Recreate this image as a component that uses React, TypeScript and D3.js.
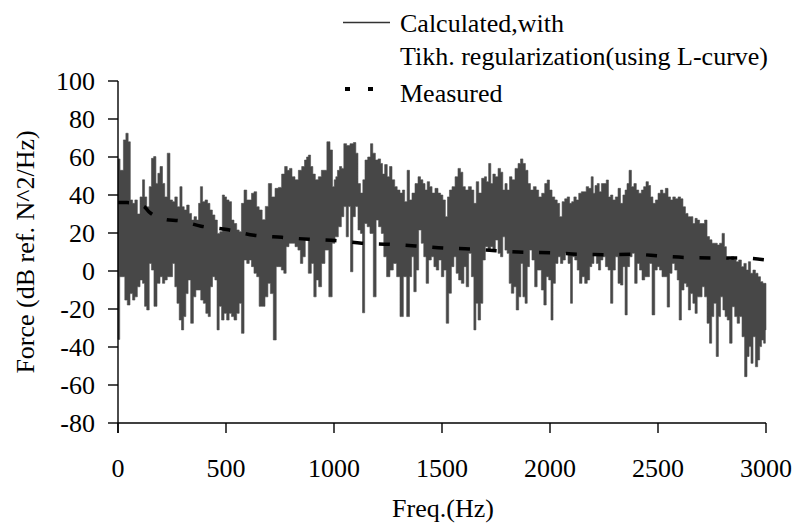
import React from "react";
import * as d3 from "d3";

// ---- data ----
const xTicks = [0, 500, 1000, 1500, 2000, 2500, 3000];
const yTicks = [-80, -60, -40, -20, 0, 20, 40, 60, 80, 100];

// Calculated (Tikhonov, L-curve): upper envelope of the dense spectrum [Hz, dB]
const calcUpper: [number, number][] = [
  [0, 59], [19, 53], [31, 69], [42, 72.5], [52, 68], [62, 37.4], [73, 35.6], [83, 37.4], [96, 30], [108, 39],
  [119, 48], [127, 39], [139, 33.8], [150, 44.4], [160, 59.3], [170, 60.2], [181, 46.1], [188, 51.4], [201, 55], [211, 46.1],
  [222, 39], [234, 62], [247, 37.4], [258, 36.5], [268, 39], [281, 33.8], [292, 44.4], [301, 33.8], [312, 32.1], [324, 34.7],
  [335, 30.3], [346, 26.8], [358, 28.6], [369, 26.8], [377, 35.6], [386, 44.4], [397, 36.5], [409, 37.4], [420, 35.6], [431, 32.1],
  [443, 29.5], [454, 26.8], [466, 19.8], [477, 20.7], [489, 40], [497, 39], [508, 37.4], [520, 36.5], [531, 26.8], [543, 25],
  [556, 21.6], [566, 20.7], [577, 35.6], [590, 42.6], [602, 37.4], [613, 37.4], [623, 40.9], [636, 41.7], [648, 33.8], [659, 32.1],
  [676, 27], [688, 34], [704, 46], [719, 39], [735, 43.5], [750, 44], [765, 51], [778, 55], [789, 53], [799, 54],
  [812, 49.6], [827, 48], [843, 53], [858, 55], [869, 58.4], [877, 60], [886, 61], [897, 55], [907, 51], [920, 48],
  [935, 49.6], [948, 53], [960, 53], [974, 68], [989, 63.7], [997, 44.4], [1005, 48], [1012, 49.6], [1020, 53], [1031, 55],
  [1040, 54], [1051, 67], [1066, 66], [1082, 67], [1097, 67.6], [1105, 62], [1117, 46], [1128, 41], [1139, 48], [1148, 58.4],
  [1164, 60], [1174, 67], [1185, 62], [1198, 58.4], [1210, 59], [1221, 56.6], [1228, 51], [1241, 56], [1252, 49.6], [1262, 55],
  [1275, 48], [1287, 44.4], [1298, 42.6], [1313, 41], [1321, 42.6], [1333, 36.5], [1344, 53], [1355, 37.4], [1367, 41], [1383, 46],
  [1395, 49.6], [1406, 48], [1417, 46], [1426, 42.6], [1437, 47], [1448, 44.4], [1460, 41], [1475, 43.5], [1488, 41], [1499, 40],
  [1509, 37.4], [1522, 28.6], [1529, 39], [1540, 42.6], [1553, 44.4], [1568, 49.6], [1580, 54], [1591, 52], [1602, 44.4], [1614, 42.6],
  [1630, 44.4], [1642, 42.6], [1653, 35.6], [1664, 47], [1676, 41], [1691, 48.8], [1702, 49.6], [1710, 47], [1722, 56.6], [1730, 46],
  [1741, 51], [1753, 49.6], [1766, 54], [1776, 52], [1787, 42.6], [1796, 46], [1807, 42.6], [1818, 49.6], [1830, 48], [1846, 54],
  [1858, 56.6], [1869, 59], [1880, 56.6], [1892, 53], [1904, 46], [1915, 42.6], [1931, 44.4], [1941, 42.6], [1954, 39], [1969, 40.9],
  [1982, 46], [1992, 47.9], [2003, 42.6], [2016, 39], [2028, 37.4], [2039, 35.6], [2050, 28.6], [2062, 36.5], [2074, 38], [2085, 39],
  [2096, 35.6], [2105, 36.5], [2116, 39], [2127, 37.4], [2139, 40.9], [2151, 41.7], [2162, 41.7], [2173, 44.4], [2185, 43.5], [2196, 49.6],
  [2204, 40.9], [2213, 45], [2224, 46], [2232, 41.7], [2244, 46], [2255, 46], [2266, 47.9], [2275, 39], [2286, 40], [2296, 37.4],
  [2309, 39], [2321, 43.5], [2332, 35.6], [2343, 40], [2352, 42.6], [2361, 46], [2371, 53], [2383, 44.4], [2394, 46], [2405, 42.6],
  [2417, 40.9], [2429, 42.6], [2438, 44.4], [2451, 47], [2460, 45], [2471, 39], [2482, 35.6], [2494, 37.4], [2506, 40.9], [2517, 42.6],
  [2528, 40.9], [2540, 43.5], [2553, 39], [2563, 37.4], [2574, 39], [2587, 38], [2599, 39], [2610, 38], [2621, 33.8], [2633, 30.3],
  [2645, 28.6], [2656, 28.6], [2667, 25], [2676, 27.7], [2687, 26.8], [2698, 25], [2710, 25], [2721, 26.8], [2733, 18.1], [2744, 16.4],
  [2756, 14.6], [2769, 14.6], [2780, 13.7], [2790, 14.6], [2803, 19.8], [2812, 12.8], [2821, 6.7], [2834, 5.8], [2846, 7.5], [2857, 5.8],
  [2867, 4.9], [2880, 5.8], [2892, 2.3], [2903, 4], [2914, 0.5], [2923, 4.9], [2934, -1.2], [2945, 0.5], [2957, -1.2], [2969, -3],
  [2980, -5.6], [2991, -6.5], [3000, -6.5],
];

// Calculated: lower envelope [Hz, dB]
const calcLower: [number, number][] = [
  [0, -36], [5, -36], [11, -3], [26, -3], [37, -15.3], [49, -17.9], [62, -11.9], [73, -15.3], [83, -13.6], [96, -8.3],
  [108, -4.7], [119, -6.5], [127, -18.6], [139, -20.5], [150, 4], [160, 0.5], [173, -18.6], [188, -6.5], [201, -3], [211, -6.5],
  [222, -4.7], [234, -3], [247, -3], [258, 4], [268, -8.3], [278, -17], [289, -25.8], [299, -31], [309, -24], [319, -11.9],
  [330, -4.7], [343, -27.5], [355, -13.6], [366, -10], [377, -10], [389, -15.3], [401, -17], [412, -22.3], [423, -24], [432, -8.3],
  [443, -3], [454, -4.7], [463, -31], [474, -18.6], [485, -25.8], [497, -22.3], [509, -25.8], [520, -22.3], [531, -24], [543, -25.8],
  [556, -22.3], [566, -17], [577, -32.8], [590, 5.8], [602, 4], [613, 5.8], [623, 2.3], [636, -1.2], [648, -3], [659, -18.6],
  [673, -18.6], [688, -13.6], [700, -6.5], [711, -11.9], [727, -36.3], [738, 2.3], [750, 2.3], [762, 0.5], [773, -1.2], [784, 12.8],
  [799, 14.6], [812, 14.6], [827, 12.8], [839, 11], [850, 4], [861, 7.5], [873, 16.3], [889, -1.2], [901, 4], [912, -13.6],
  [923, -4.7], [935, -8.3], [950, 4], [966, 11], [986, -13.6], [997, 14.6], [1012, 18], [1028, 23.3], [1040, 28.6], [1051, 33.9],
  [1062, 18], [1071, 33.9], [1082, -0.4], [1093, 28.6], [1105, 33.9], [1117, 21.6], [1128, 19.8], [1136, -22], [1148, 25], [1159, 23.3],
  [1174, 19.8], [1190, -13.6], [1200, 26.8], [1213, 23.3], [1225, 19.8], [1236, 7.5], [1251, -3], [1267, 0.5], [1282, 4], [1298, -3],
  [1313, -24], [1329, -3], [1344, -24], [1355, -3], [1364, 7.5], [1375, -10.9], [1386, 0.5], [1398, 21.6], [1410, 14.6], [1421, 7.5],
  [1432, -6.5], [1444, 5.8], [1457, 7.5], [1468, 2.3], [1479, 0.5], [1491, 5.8], [1503, -3], [1514, 0.5], [1525, -27.5], [1537, -11.7],
  [1550, 2.3], [1560, 7.5], [1571, -1.2], [1583, -4.7], [1596, -6.5], [1607, 2.3], [1617, -8.3], [1630, 9.3], [1642, -3], [1653, -31],
  [1661, -17], [1673, -25.8], [1684, -17], [1694, 5.8], [1707, 12.8], [1719, 11], [1730, 12.8], [1741, 11], [1753, 16.3], [1766, 9.3],
  [1776, 7.5], [1787, 18], [1796, 11], [1807, 9.3], [1815, -6.5], [1827, -11.7], [1838, -8.3], [1849, -20.5], [1861, -13.6], [1869, 4],
  [1880, -13.6], [1889, -17], [1900, 2.3], [1910, 11], [1923, 5.8], [1935, -8.3], [1946, 0.5], [1954, 0.5], [1966, -10], [1977, -17.9],
  [1988, -3], [2000, -4.7], [2009, -25.8], [2019, -6.5], [2031, 4], [2043, 7.5], [2054, 4], [2065, 5.8], [2077, 9.3], [2090, 4],
  [2100, -17], [2108, 7.5], [2121, 5.8], [2131, 0.5], [2142, -6.5], [2154, -3], [2167, -6.5], [2178, -4.7], [2189, 2.3], [2198, 4],
  [2209, 9.3], [2220, 4], [2229, 0.5], [2240, 5.8], [2250, 7.5], [2263, 2.3], [2275, 0.5], [2286, -17], [2296, 0.5], [2309, 7.5],
  [2321, -6.5], [2332, -7.4], [2343, 2.3], [2352, -23.1], [2363, 2.3], [2374, 7.5], [2386, 9.3], [2398, -6.5], [2409, 4], [2420, 0.5],
  [2432, -4.7], [2445, -3], [2455, -3], [2466, 4], [2479, -23.1], [2491, 0.5], [2502, 2.3], [2512, 0.5], [2525, -3], [2537, -3],
  [2548, -19], [2559, -1.2], [2571, 4], [2584, 0.5], [2594, -4.7], [2602, -25.8], [2615, -10], [2626, -6.5], [2636, -8.3], [2645, -20.5],
  [2656, -11.9], [2667, -17], [2676, -22.3], [2687, -13.6], [2698, -13.6], [2710, -8.3], [2721, -13.6], [2733, -27.5], [2744, -38], [2753, -24],
  [2764, -17], [2775, -45], [2784, -24], [2795, -13.6], [2806, -20.5], [2815, -24], [2826, -25.8], [2837, -38], [2849, -18.8], [2861, -24],
  [2872, -27.5], [2883, -24], [2895, -34.6], [2907, -55.6], [2917, -45], [2926, -39.8], [2935, -48.6], [2945, -34.6], [2957, -50.4], [2966, -46.8],
  [2975, -39.8], [2984, -36.3], [2994, -38], [3000, -31],
];

// Measured spectrum [Hz, dB]
const measured: [number, number][] = [
  [0, 36], [42, 36], [119, 34], [145, 31], [225, 27], [281, 26.5], [385, 23.6], [504, 21.8], [630, 18.8], [758, 17.7],
  [883, 16.7], [1008, 16], [1128, 14.6], [1254, 14.1], [1380, 13.2], [1506, 12.1], [1630, 11.6], [1750, 10.7], [1880, 9.8], [2006, 9.6],
  [2130, 8.8], [2255, 8.6], [2386, 8.8], [2510, 7.9], [2635, 7.1], [2760, 6.9], [2882, 6.9], [3000, 5.8],
];

const legendLabels = ["Calculated,with", "Tikh. regularization(using L-curve)", "Measured"];
const xTitle = "Freq.(Hz)";
const yTitle = "Force (dB ref. N^2/Hz)";

const FONT = "'Liberation Serif', 'Times New Roman', serif";

export default function App() {
  const W = 798;
  const H = 528;
  const x = d3.scaleLinear().domain([0, 3000]).range([118, 766]);
  const y = d3.scaleLinear().domain([-80, 100]).range([423, 81]);

  const bandLine = d3
    .line<[number, number]>()
    .x((d) => x(d[0]))
    .y((d) => y(d[1]))
    .curve(d3.curveStep);
  const bandPath = bandLine([...calcUpper, ...calcLower.slice().reverse()]) + "Z";

  const measLine = d3
    .line<[number, number]>()
    .x((d) => x(d[0]))
    .y((d) => y(d[1]))
    .curve(d3.curveMonotoneX);
  const measPath = measLine(measured) || "";

  const x0 = x(0);
  const y0 = y(-80);

  return (
    <svg
      width={W}
      height={H}
      viewBox={`0 0 ${W} ${H}`}
      style={{ position: "absolute", left: 0, top: 0, background: "#fff" }}
      fontFamily={FONT}
    >
      <rect x={0} y={0} width={W} height={H} fill="#fff" />

      {/* calculated spectrum */}
      <path d={bandPath} fill="#474747" stroke="#4d4d4d" strokeWidth={0.6} />

      {/* measured */}
      <path
        d={measPath}
        fill="none"
        stroke="#000"
        strokeWidth={3.5}
        strokeDasharray="11 15.75"
      />

      {/* y axis */}
      <line x1={x0} x2={x0} y1={y(100)} y2={y0 + 10} stroke="#000" strokeWidth={1.4} />
      {yTicks.map((t) => (
        <g key={"y" + t}>
          <line x1={x0 - 10} x2={x0} y1={y(t)} y2={y(t)} stroke="#000" strokeWidth={1.4} />
          <text x={95} y={y(t) + 9} textAnchor="end" fontSize={26} fill="#000">
            {t}
          </text>
        </g>
      ))}

      {/* x axis */}
      <line x1={x0} x2={x(3000)} y1={y0} y2={y0} stroke="#000" strokeWidth={1.4} />
      {xTicks.map((t) => (
        <g key={"x" + t}>
          <line x1={x(t)} x2={x(t)} y1={y0} y2={y0 + 10} stroke="#000" strokeWidth={1.4} />
          <text x={x(t)} y={477} textAnchor="middle" fontSize={26} fill="#000">
            {t}
          </text>
        </g>
      ))}

      {/* axis titles */}
      <text x={443} y={517} textAnchor="middle" fontSize={26} fill="#000">
        {xTitle}
      </text>
      <text
        transform={`translate(34, ${(y(100) + y(-80)) / 2}) rotate(-90)`}
        textAnchor="middle"
        fontSize={26}
        fill="#000"
      >
        {yTitle}
      </text>

      {/* legend */}
      <line x1={343} x2={390} y1={22.5} y2={22.5} stroke="#333" strokeWidth={1.3} />
      <text x={400} y={32} fontSize={26} fill="#000">
        {legendLabels[0]}
      </text>
      <text x={400} y={65} fontSize={26} fill="#000">
        {legendLabels[1]}
      </text>
      <line
        x1={345}
        x2={374}
        y1={89}
        y2={89}
        stroke="#000"
        strokeWidth={4}
        strokeDasharray="5 18"
      />
      <text x={400} y={102} fontSize={26} fill="#000">
        {legendLabels[2]}
      </text>
    </svg>
  );
}
